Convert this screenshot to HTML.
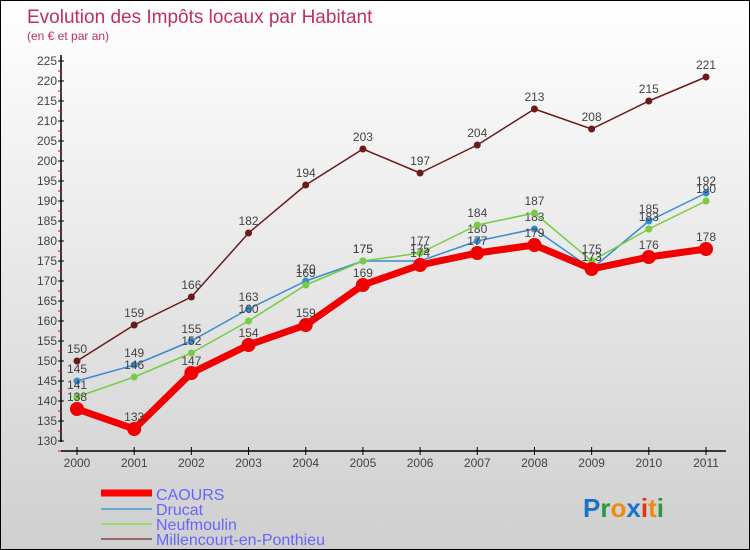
<!DOCTYPE html>
<html><head><meta charset="utf-8"><style>
body{margin:0}
#c{width:748px;height:548px;border:1px solid #000;background:linear-gradient(#fff,#cfcfcf);position:relative;font-family:"Liberation Sans",sans-serif;overflow:hidden}
svg text{font-family:"Liberation Sans",sans-serif}
</style></head><body>
<div id="c">
<svg id="s" width="748" height="548">
<text x="26" y="22" font-size="19" fill="#c0305a">Evolution des Impôts locaux par Habitant</text>
<text x="26" y="39" font-size="12" fill="#c0305a">(en € et par an)</text>
<g id="ax"></g><g id="ser"></g>
<g>
<line x1="100" y1="492" x2="151" y2="492" stroke="#f00" stroke-width="7"/>
<text x="155" y="499" font-size="16" fill="#6666ff">CAOURS</text>
<line x1="100" y1="508" x2="151" y2="508" stroke="#6aaad8" stroke-width="2"/>
<text x="155" y="514" font-size="16" fill="#6666ff">Drucat</text>
<line x1="100" y1="523" x2="151" y2="523" stroke="#99dd66" stroke-width="2"/>
<text x="155" y="529" font-size="16" fill="#6666ff">Neufmoulin</text>
<line x1="100" y1="538" x2="151" y2="538" stroke="#996666" stroke-width="2"/>
<text x="155" y="544" font-size="16" fill="#6666ff">Millencourt-en-Ponthieu</text>
</g>
<g font-size="26" font-weight="bold">
<text x="582" y="516"><tspan fill="#1a73c8">P</tspan><tspan fill="#2a9a3a">r</tspan><tspan fill="#f08a10">o</tspan><tspan fill="#1a73c8">x</tspan><tspan fill="#e83010">i</tspan><tspan fill="#f08a10">t</tspan><tspan fill="#2a9a3a">i</tspan></text>
</g>
</svg></div>
<script>
const years=[2000,2001,2002,2003,2004,2005,2006,2007,2008,2009,2010,2011];
const caours=[138,133,147,154,159,169,174,177,179,173,176,178];
const drucat=[145,149,155,163,170,175,175,180,183,173,185,192];
const neufmoulin=[141,146,152,160,169,175,177,184,187,175,183,190];
const millencourt=[150,159,166,182,194,203,197,204,213,208,215,221];
const yTicks=[130,135,140,145,150,155,160,165,170,175,180,185,190,195,200,205,210,215,220,225];
const NS="http://www.w3.org/2000/svg";
const X=i=>76+i*(705-76)/11, Y=v=>440-(v-130)*4;
function mk(t,a,p){const e=document.createElementNS(NS,t);for(const k in a)e.setAttribute(k,a[k]);p.appendChild(e);return e;}
const ax=document.getElementById('ax'), ser=document.getElementById('ser');
let l=mk('line',{x1:60,y1:54,x2:60,y2:441,stroke:'#000','stroke-width':1.5},ax);


l=mk('line',{x1:60,y1:450,x2:725,y2:450,stroke:'#000','stroke-width':1.5},ax);


yTicks.forEach(v=>{const y=Y(v);
 mk('line',{x1:57,y1:y,x2:63,y2:y,stroke:'#000'},ax);
 mk('line',{x1:57,y1:y+10,x2:60,y2:y+10,stroke:'#f00'},ax);
 const t=mk('text',{x:56,y:y+4,'text-anchor':'end','font-size':12,fill:'#444'},ax);t.textContent=v;
 
 });
years.forEach((yr,i)=>{const x=X(i);
 mk('line',{x1:x,y1:446,x2:x,y2:454,stroke:'#000'},ax);
 const t=mk('text',{x:x,y:466,'text-anchor':'middle','font-size':12,fill:'#444'},ax);t.textContent=yr;
 
 });
function draw(d,c,w,r,name){
 const p=mk('polyline',{points:d.map((v,i)=>X(i)+','+Y(v)).join(' '),fill:'none',stroke:c,'stroke-width':w,'stroke-linejoin':'round'},ser);
 
 
 d.forEach((v,i)=>{const m=mk('circle',{cx:X(i),cy:Y(v),r:r,fill:c},ser);
  
  
  const t=mk('text',{x:X(i),y:Y(v)-8,'text-anchor':'middle','font-size':12,fill:'#444'},ser);t.textContent=v;
  
  });
}
draw(millencourt,'#6b1a1a',1.5,3.5,'millencourt');
draw(drucat,'#3a8ad0',1.5,3.5,'drucat');
draw(neufmoulin,'#77cc44',1.5,3.5,'neufmoulin');
draw(caours,'#f00000',7,7,'caours');
</script>
</body></html>
